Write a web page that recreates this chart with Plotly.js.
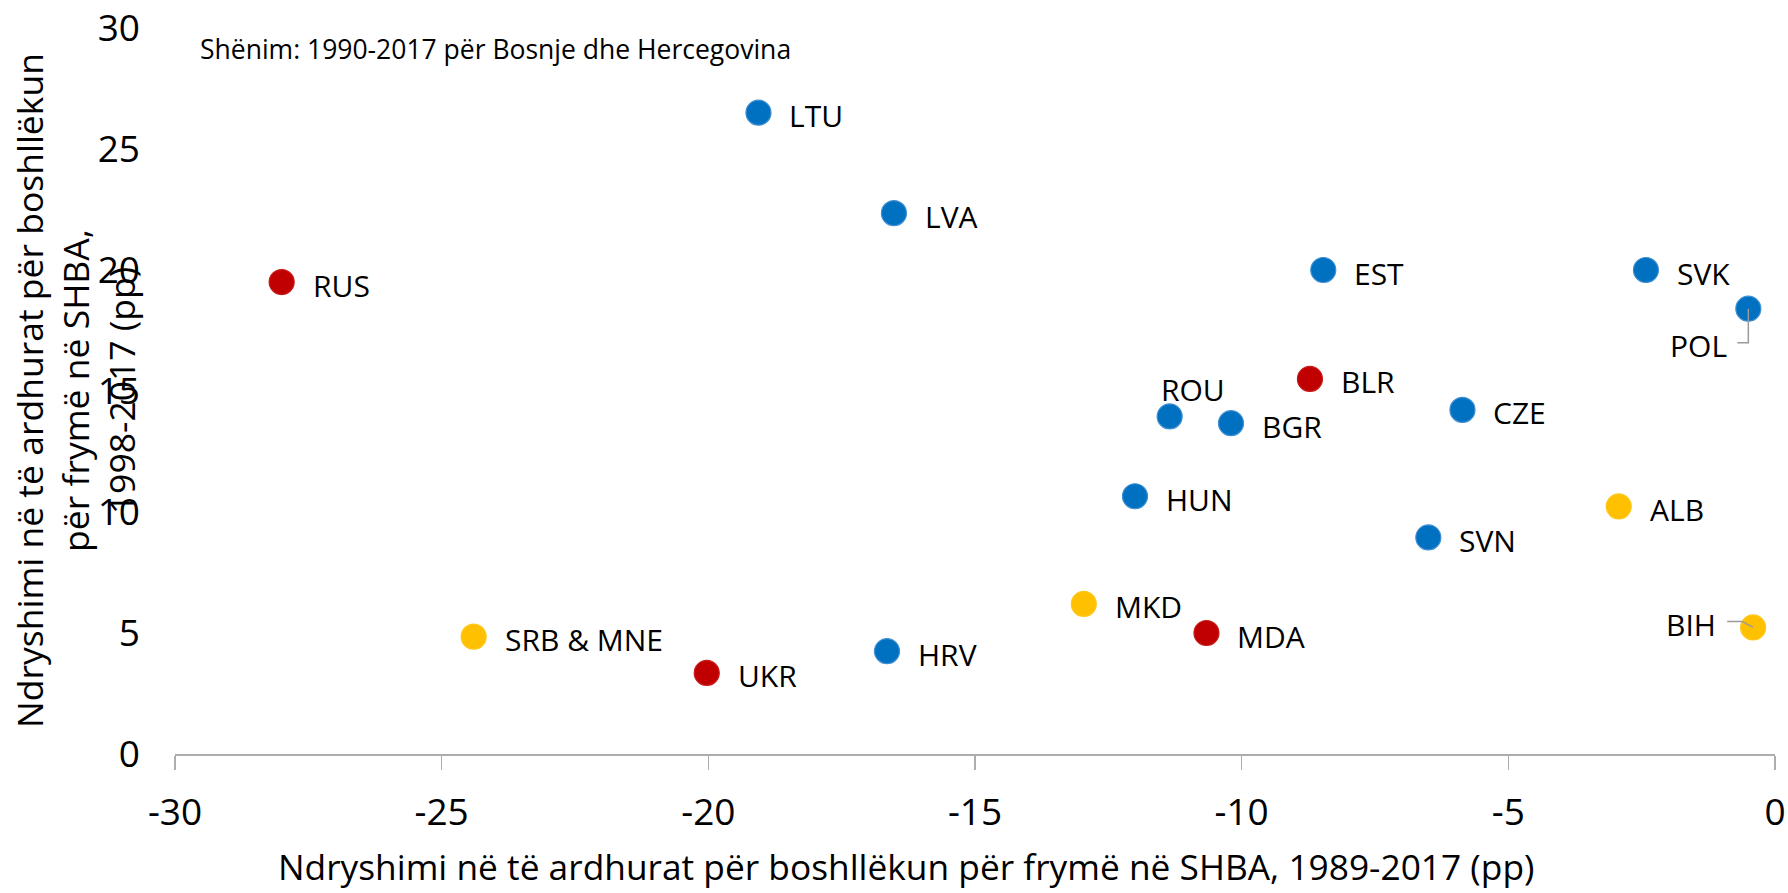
<!DOCTYPE html>
<html>
<head>
<meta charset="utf-8">
<script src="https://cdn.plot.ly/plotly-3.0.1.min.js"></script>
<style>html,body{margin:0;padding:0;background:#fff;}#chart{width:1788px;height:893px;}</style>
</head>
<body>
<div id="chart"></div>
<script>
// ---- data ----
const countries = ["LTU","LVA","RUS","EST","SVK","POL","BLR","ROU","BGR","CZE","HUN","ALB","SVN","MKD","MDA","BIH","SRB & MNE","UKR","HRV"];
const incomeGap8917 = [-19.06,-16.52,-28.0,-8.47,-2.42,-0.5,-8.72,-11.35,-10.2,-5.86,-12.0,-2.93,-6.5,-12.96,-10.66,-0.41,-24.4,-20.03,-16.65];
const incomeGap9817 = [26.5,22.35,19.5,20.0,20.0,18.4,15.5,13.95,13.67,14.22,10.65,10.23,8.95,6.2,5.0,5.23,4.85,3.35,4.25];
const groups = ["EU","EU","CIS","EU","EU","EU","CIS","EU","EU","EU","EU","WB","EU","WB","CIS","WB","WB","CIS","EU"];
const groupNames = ["EU","CIS","WB"];
const xTicks = [-30,-25,-20,-15,-10,-5,0];
const yTicks = [0,5,10,15,20,25,30];
const noteText = "Shënim: 1990-2017 për Bosnje dhe Hercegovina";
const xTitle = "Ndryshimi në të ardhurat për boshllëkun për frymë në SHBA, 1989-2017 (pp)";
const yTitle = "Ndryshimi në të ardhurat për boshllëkun<br>për frymë në SHBA,<br>1998-2017 (pp)";

// ---- styles ----
const groupColors = {EU:"#0070C0", CIS:"#C00000", WB:"#FFC000"};
const groupEdges = {EU:"#3F8FD2", CIS:"#C81A1A", WB:"#FFC71A"};
const FONT = "Open Sans, Noto Sans, sans-serif";
const axisGray = "#ADADAD";
const labelStyle = {
  right:     {xanchor:"left",  xshift:29,  yshift:-3},
  above:     {xanchor:"left",  xshift:-11, yshift:27},
  belowLeft: {xanchor:"right", xshift:-19, yshift:-37},
  left:      {xanchor:"right", xshift:-35, yshift:3}
};
const labelPlacement = {ROU:"above", POL:"belowLeft", BIH:"left"};
const leaderPaths = {POL:"M0,0 L0,-34 L-11,-34", BIH:"M-26,6 L-11,6 L0,0"};

const traces = groupNames.map(g => {
  const idx = countries.map((c,i)=>i).filter(i => groups[i]===g);
  return {
    type:"scatter", mode:"markers", name:g,
    x: idx.map(i=>incomeGap8917[i]),
    y: idx.map(i=>incomeGap9817[i]),
    text: idx.map(i=>countries[i]),
    marker:{size:25, color:groupColors[g], line:{width:1.2, color:groupEdges[g]}},
    cliponaxis:false, hoverinfo:"text+x+y", showlegend:false
  };
});

const annotations = countries.map((c,i) => {
  const st = labelStyle[labelPlacement[c] || "right"];
  return {
    x: incomeGap8917[i], y: incomeGap9817[i], xref:"x", yref:"y",
    text:c, showarrow:false, xanchor:st.xanchor, yanchor:"middle",
    xshift:st.xshift, yshift:st.yshift,
    font:{family:FONT, size:30, color:"#000"}
  };
});
annotations.push({
  xref:"paper", yref:"paper", x:0, y:1, xanchor:"left", yanchor:"middle",
  xshift:23, yshift:-21, text:noteText, showarrow:false,
  font:{family:FONT, size:26.5, color:"#000"}
});
annotations.push({
  xref:"paper", yref:"paper", x:0.457, y:0, xanchor:"center", yanchor:"bottom",
  yshift:-138, text:xTitle, showarrow:false,
  font:{family:FONT, size:35.3, color:"#000"}
});
annotations.push({
  xref:"paper", yref:"paper", x:0, y:0.5, xanchor:"center", yanchor:"middle",
  xshift:-100, textangle:-90, text:yTitle, showarrow:false, align:"center",
  font:{family:FONT, size:35.5, color:"#000"}
});

const shapes = Object.keys(leaderPaths).map(c => {
  const i = countries.indexOf(c);
  return {
    type:"path", xref:"x", yref:"y", xsizemode:"pixel", ysizemode:"pixel",
    xanchor:incomeGap8917[i], yanchor:incomeGap9817[i],
    path:leaderPaths[c], line:{color:"#9A9A9A", width:1.5}, layer:"above"
  };
});

const layout = {
  width:1788, height:893,
  margin:{l:175, r:13, t:28, b:139, pad:0},
  paper_bgcolor:"#fff", plot_bgcolor:"#fff",
  font:{family:FONT, color:"#000"},
  showlegend:false,
  xaxis:{
    range:[-30,0], tickvals:xTicks, ticktext:xTicks.map(String),
    showline:true, linecolor:axisGray, linewidth:1.8,
    ticks:"outside", ticklen:14, tickwidth:1.5, tickcolor:axisGray,
    showgrid:false, zeroline:false, ticklabelstandoff:11,
    tickfont:{family:FONT, size:37, color:"#000"}
  },
  yaxis:{
    range:[0,30], tickvals:yTicks, ticktext:yTicks.map(String),
    showline:false, ticks:"", showgrid:false, zeroline:false,
    ticklabelstandoff:34,
    tickfont:{family:FONT, size:37, color:"#000"}
  },
  yaxis2:{
    range:[0,30], overlaying:"y", side:"right", tickvals:yTicks,
    showline:true, linecolor:axisGray, linewidth:1.8,
    ticks:"inside", ticklen:13, tickwidth:1.5, tickcolor:axisGray,
    showticklabels:false, showgrid:false, zeroline:false
  },
  annotations:annotations,
  shapes:shapes
};

Plotly.newPlot("chart", traces, layout, {displayModeBar:false, staticPlot:true});
</script>
</body>
</html>
